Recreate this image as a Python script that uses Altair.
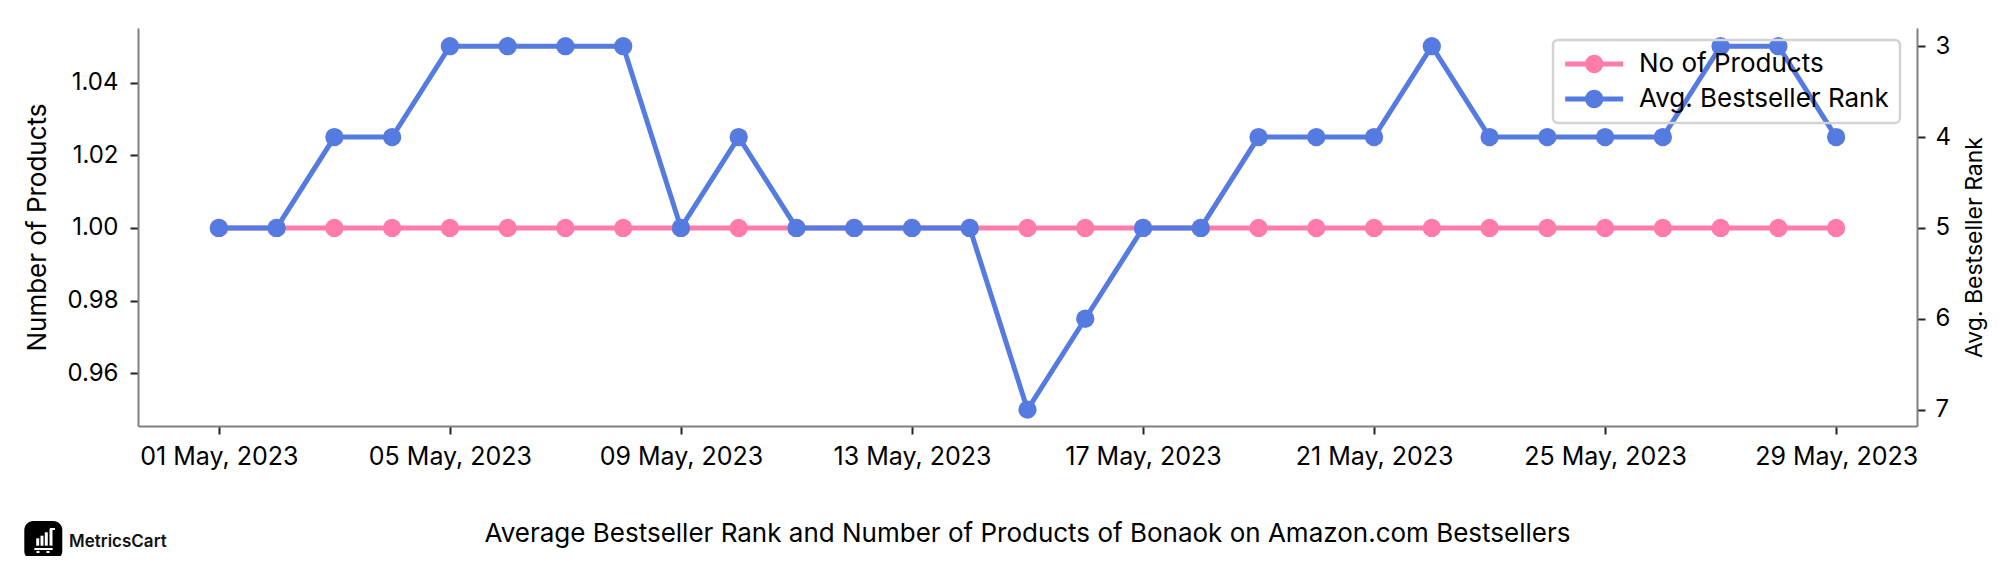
import altair as alt
import pandas as pd

FONT = "Inter"
PINK = "#FF7BAC"
BLUE = "#557BE0"
GREY = "#808080"
INK = "#000000"

days = [f"2023-05-{d:02d}T00:00:00" for d in range(1, 30)]
products = [1.0] * 29
ranks = [5, 5, 4, 4, 3, 3, 3, 3, 5, 4, 5, 5, 5, 5, 7, 6, 5, 5, 4, 4, 4, 3, 4, 4, 4, 4, 3, 3, 4]
x_ticks = ["2023-05-01T00:00:00", "2023-05-05T00:00:00", "2023-05-09T00:00:00", "2023-05-13T00:00:00",
           "2023-05-17T00:00:00", "2023-05-21T00:00:00", "2023-05-25T00:00:00", "2023-05-29T00:00:00"]
series_names = ["No of Products", "Avg. Bestseller Rank"]
left_ticks = [0.96, 0.98, 1.00, 1.02, 1.04]
right_ticks = [3, 4, 5, 6, 7]
title_text = "Average Bestseller Rank and Number of Products of Bonaok on Amazon.com Bestsellers"
brand = "MetricsCart"

df = pd.DataFrame({"date": days, "products": products, "rank": ranks})
df["s1"] = series_names[0]
df["s2"] = series_names[1]

x_enc = alt.X(
    "date:T",
    scale=alt.Scale(domain=["2023-04-29T14:24:00", "2023-05-30T09:36:00"]),
    axis=alt.Axis(values=x_ticks, format="%d %b, %Y", title=None, grid=False, labelFont=FONT, labelFontSize=25,
                  labelColor=INK, labelPadding=10, tickSize=8, tickWidth=2, tickColor="#222",
                  domainColor=GREY, domainWidth=2, labelOverlap=False),
)
color_scale = alt.Scale(domain=series_names, range=[PINK, BLUE])

# line + dot legend glyph, in symbol units
glyph = ("M-1.124,-0.238H4.398V0.238H-1.124Z "
         "M2.509,0A0.871,0.871 0 1 1 0.767,0A0.871,0.871 0 1 1 2.509,0Z")
legend = alt.Legend(
    title=None, orient="none", legendX=1415, legendY=12, fillColor="transparent",
    strokeColor="#d3d3d3", cornerRadius=5, padding=11, rowPadding=9, symbolType=glyph, symbolSize=441,
    symbolStrokeWidth=0, labelOffset=49, labelFont=FONT, labelFontSize=26, labelColor=INK,
    labelLimit=400,
)

y_left = alt.Y(
    "products:Q",
    scale=alt.Scale(domain=[0.9455, 1.055], nice=False, zero=False),
    axis=alt.Axis(values=left_ticks, format=".2f", title="Number of Products", orient="left", grid=False,
                  labelFont=FONT, labelFontSize=24, labelColor=INK, labelPadding=12, tickSize=8, tickWidth=2,
                  tickColor="#222", domainColor=GREY, domainWidth=2, titleFont=FONT, titleFontSize=26,
                  titleFontWeight="normal", titleColor=INK, titleX=-101, titleY=199, titleAngle=270,
                  titleAlign="center", titleBaseline="middle"),
)
y_right = alt.Y(
    "rank:Q",
    scale=alt.Scale(domain=[7.18, 2.8], nice=False, zero=False),
    axis=alt.Axis(values=right_ticks, format="d", title="Avg. Bestseller Rank", orient="right", grid=False,
                  labelFont=FONT, labelFontSize=24, labelColor=INK, labelPadding=10, tickSize=8, tickWidth=2,
                  tickColor="#222", domainColor=GREY, domainWidth=2, titleFont=FONT, titleFontSize=23,
                  titleFontWeight="normal", titleColor=INK, titleX=57, titleY=219, titleAngle=270,
                  titleAlign="center", titleBaseline="middle"),
)

base = alt.Chart(df)
c1l = alt.Color("s1:N", scale=color_scale, legend=legend)
c2l = alt.Color("s2:N", scale=color_scale, legend=legend)

left = alt.layer(
    base.mark_line(strokeWidth=5, color=PINK).encode(x=x_enc, y=y_left),
    base.mark_circle(size=335, opacity=1).encode(x=x_enc, y=y_left, color=c1l),
)
right = alt.layer(
    base.mark_line(strokeWidth=5, color=BLUE).encode(x=x_enc, y=y_right),
    base.mark_circle(size=335, opacity=1).encode(x=x_enc, y=y_right, color=c2l),
)
plots = alt.layer(left, right).resolve_scale(y="independent")

logo_src = alt.Chart(pd.DataFrame({"t": [brand]}))
logo_box = logo_src.mark_rect(color="#000", cornerRadius=9).encode(
    x=alt.value(-113.7), x2=alt.value(-75.7), y=alt.value(493), y2=alt.value(532))
logo_bars = alt.layer(*[
    logo_src.mark_rule(color="#fff", strokeWidth=3).encode(
        x=alt.value(px), y=alt.value(y0), y2=alt.value(517.7))
    for px, y0 in [(-100.3, 510.3), (-96, 507.7), (-91.7, 504.3), (-87, 501)]
])
logo_base = alt.layer(*[
    logo_src.mark_rule(color="#fff", strokeWidth=w).encode(
        x=alt.value(x0), x2=alt.value(x1), y=alt.value(yy))
    for x0, x1, yy, w in [(-103.7, -85.3, 521, 2), (-88, -83, 501, 2), (-101.5, -98.5, 524, 2), (-91.5, -88.5, 524, 2)]
])
logo_text = logo_src.mark_text(font=FONT, fontSize=17, fontWeight=600, color="#111", align="left", baseline="middle").encode(
    x=alt.value(-69), y=alt.value(513.7), text="t:N")

chart = alt.layer(plots, logo_box, logo_bars, logo_base, logo_text).properties(
    width=1779, height=398,
    title=alt.TitleParams(title_text, orient="bottom", anchor="middle", offset=-39, font=FONT, fontSize=26,
                          fontWeight="normal", color=INK),
    autosize=alt.AutoSizeParams(type="none"),
    padding={"left": 130, "top": 20, "right": 90, "bottom": 130},
).configure_view(stroke=None).configure_legend(strokeWidth=2.5)

chart.save("out.html", embed_options={"renderer": "svg", "actions": False})
